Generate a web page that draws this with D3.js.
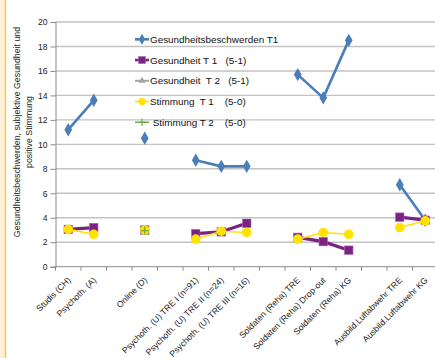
<!DOCTYPE html>
<html>
<head>
<meta charset="utf-8">
<script src="https://cdn.jsdelivr.net/npm/d3@7/dist/d3.min.js"></script>
<style>
  html, body { margin: 0; padding: 0; background: #fff; }
  svg { display: block; font-family: "Liberation Sans", Arial, sans-serif; }
  text { white-space: pre; }
</style>
</head>
<body>
<svg id="chart" width="435" height="358"></svg>
<script>
// Groups of samples; empty strings are spacer slots between groups
const categories = [
  "Studis (CH)", "Psychoth. (A)", "",
  "Online (D)", "",
  "Psychoth. (U) TRE I (n=91)", "Psychoth. (U) TRE II (n=24)", "Psychoth. (U) TRE III (n=16)", "",
  "Soldaten (Reha) TRE", "Soldaten (Reha) Drop-out", "Soldaten (Reha) KG", "",
  "Ausbild.Luftabwehr TRE", "Ausbild.Luftabwehr KG"
];

const beschwerdenT1 = [11.2, 13.6, null, 10.5, null, 8.7, 8.2, 8.2, null, 15.7, 13.8, 18.5, null, 6.7, 3.8];
const gesundheitT1  = [3.05, 3.2, null, 3.0, null, 2.7, 2.85, 3.55, null, 2.4, 2.05, 1.35, null, 4.05, 3.8];
const gesundheitT2  = [null, null, null, 3.0, null, null, null, null, null, null, null, null, null, null, null];
const stimmungT1    = [3.05, 2.65, null, 3.0, null, 2.25, 2.9, 2.8, null, 2.25, 2.8, 2.65, null, 3.2, 3.75];
const stimmungT2    = [null, null, null, 2.95, null, null, null, null, null, null, null, null, null, null, null];

const yTicks = [0, 2, 4, 6, 8, 10, 12, 14, 16, 18, 20];
const yTitle = ["Gesundheitsbeschwerden, subjektive Gesundheit und", "positive Stimmung"];

const series = [
  { name: "Gesundheitsbeschwerden T1", values: beschwerdenT1, color: "#4a7ebb", width: 2.6, marker: "diamond" },
  { name: "Gesundheit T 1   (5-1)",     values: gesundheitT1,  color: "#7a2382", width: 3.2, marker: "square" },
  { name: "Gesundheit  T 2   (5-1)",    values: gesundheitT2,  color: "#a5a5a5", width: 2,   marker: "triangle" },
  { name: "Stimmung  T 1    (5-0)",     values: stimmungT1,    color: "#ffe200", width: 1.6, marker: "circle" },
  { name: " Stimmung T 2    (5-0)",     values: stimmungT2,    color: "#6aab3f", width: 1.5, marker: "plus" }
];

const svg = d3.select("#chart");

// Framing strip on the left edge
svg.append("rect").attr("x", 0).attr("y", 0).attr("width", 5).attr("height", 358).attr("fill", "#fdf0d6");
svg.append("line").attr("x1", 5.5).attr("x2", 5.5).attr("y1", 0).attr("y2", 358)
  .attr("stroke", "#f7c65e").attr("stroke-width", 1.5);

const margin = { left: 55.5, top: 22, bottom: 266.7 };
const plotRight = 438;

const x = d3.scaleBand().domain(d3.range(categories.length)).range([margin.left, plotRight]).padding(0);
const cx = i => x(i) + x.bandwidth() / 2;
const y = d3.scaleLinear().domain([0, 20]).range([margin.bottom, margin.top]);

// Horizontal gridlines
svg.append("g").selectAll("line").data(yTicks.filter(t => t > 0)).join("line")
  .attr("x1", margin.left).attr("x2", plotRight)
  .attr("y1", d => y(d)).attr("y2", d => y(d))
  .attr("stroke", "#c2c2c2").attr("stroke-width", 1.4);

// Y axis
const yAxis = svg.append("g").attr("transform", `translate(${margin.left},0)`)
  .call(d3.axisLeft(y).tickValues(yTicks).tickSize(5).tickPadding(3));
yAxis.select(".domain").attr("stroke", "#8a8a8a");
yAxis.selectAll(".tick line").attr("stroke", "#8a8a8a");
yAxis.selectAll(".tick text").attr("font-size", "8.6px").attr("fill", "#222")
  .attr("font-family", "'Liberation Sans', Arial, sans-serif");

// X axis: ticks at band boundaries
const xAxisG = svg.append("g").attr("transform", `translate(0,${margin.bottom})`);
xAxisG.append("line").attr("x1", margin.left).attr("x2", plotRight).attr("y1", 0).attr("y2", 0)
  .attr("stroke", "#8a8a8a");
xAxisG.selectAll("line.tk").data(d3.range(categories.length + 1)).join("line")
  .attr("class", "tk")
  .attr("x1", i => margin.left + i * x.bandwidth()).attr("x2", i => margin.left + i * x.bandwidth())
  .attr("y1", 0).attr("y2", 4).attr("stroke", "#8a8a8a");
xAxisG.selectAll("text").data(categories.map((c, i) => ({ c, i })).filter(d => d.c)).join("text")
  .attr("transform", d => `translate(${cx(d.i) + 3},${14}) rotate(-45)`)
  .attr("text-anchor", "end")
  .attr("font-size", "8.6px").attr("fill", "#222")
  .text(d => d.c);

// Y axis title
const yt = svg.append("text")
  .attr("transform", `translate(20,132) rotate(-90)`)
  .attr("text-anchor", "middle").attr("font-size", "8.8px").attr("fill", "#222");
yt.selectAll("tspan").data(yTitle).join("tspan")
  .attr("x", 0).attr("dy", (d, i) => i === 0 ? 0 : "1.35em").text(d => d);

// Marker shapes
function drawMarker(g, type, color, px, py, legend) {
  if (type === "diamond") {
    g.append("path").attr("d", d3.symbol(d3.symbolDiamond, legend ? 34 : 52)())
      .attr("transform", `translate(${px},${py})`).attr("fill", color);
  } else if (type === "square") {
    const s = legend ? 7 : 8.5;
    g.append("rect").attr("x", px - s / 2).attr("y", py - s / 2).attr("width", s).attr("height", s)
      .attr("fill", color).attr("stroke", "#a86aae").attr("stroke-width", 0.6);
  } else if (type === "triangle") {
    g.append("path").attr("d", d3.symbol(d3.symbolTriangle, legend ? 22 : 30)())
      .attr("transform", `translate(${px},${py})`).attr("fill", color);
  } else if (type === "circle") {
    g.append("circle").attr("cx", px).attr("cy", py).attr("r", legend ? 3.6 : 4.8).attr("fill", color);
  } else if (type === "plus") {
    const h = legend ? 3.8 : 4;
    g.append("path").attr("d", `M${px - h},${py}H${px + h}M${px},${py - h}V${py + h}`)
      .attr("stroke", color).attr("stroke-width", 1.2).attr("fill", "none");
  }
}

// Series lines and markers
const line = d3.line().defined(d => d.v != null).x(d => cx(d.i)).y(d => y(d.v));
series.forEach(s => {
  const g = svg.append("g");
  const pts = s.values.map((v, i) => ({ v, i }));
  g.append("path").datum(pts).attr("d", line)
    .attr("fill", "none").attr("stroke", s.color).attr("stroke-width", s.width)
    .attr("stroke-linejoin", "round");
  pts.filter(d => d.v != null).forEach(d => drawMarker(g, s.marker, s.color, cx(d.i), y(d.v), false));
});

// Legend
const legend = svg.append("g");
series.forEach((s, k) => {
  const ly = 39.3 + k * 20.75;
  legend.append("line").attr("x1", 135).attr("x2", 149).attr("y1", ly).attr("y2", ly)
    .attr("stroke", s.color).attr("stroke-width", Math.min(s.width, 2.6));
  drawMarker(legend, s.marker, s.color, 142, ly, true);
  legend.append("text").attr("x", 150).attr("y", ly).attr("dy", "0.35em")
    .attr("font-size", "9.9px").attr("fill", "#111").text(s.name);
});
</script>
</body>
</html>
